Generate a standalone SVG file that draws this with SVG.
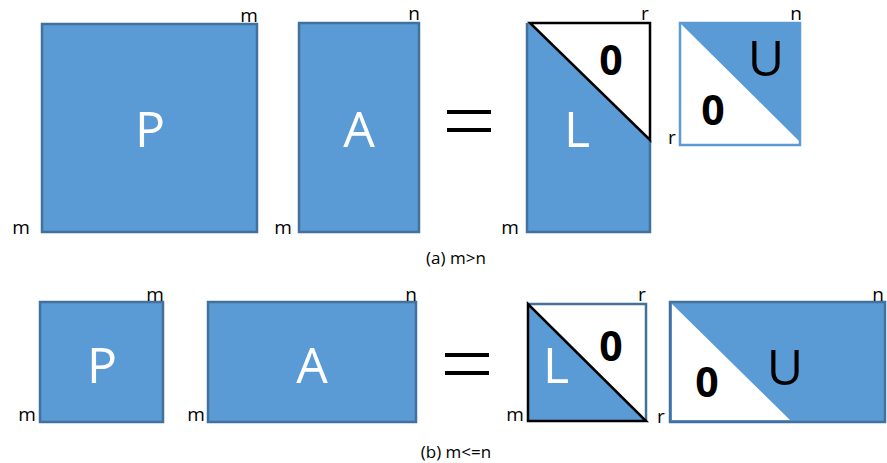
<svg xmlns="http://www.w3.org/2000/svg" width="887" height="463" viewBox="0 0 887 463">
<style>
.box{fill:#5B9BD5;stroke:#41719C;stroke-width:2.5}
.wt{fill:#fff;stroke:none}
.bl{fill:#5B9BD5;stroke:none}
.blk{fill:none;stroke:#000;stroke-width:2.5;stroke-linejoin:miter}
.bd{fill:none;stroke:#41719C;stroke-width:2.5}
.big{font-family:"Open Sans","Liberation Sans",sans-serif;font-size:50px;fill:#fff;text-anchor:middle}
.bigk{font-family:"Open Sans","Liberation Sans",sans-serif;font-size:50px;fill:#000;text-anchor:middle}
.zero{font-family:"Open Sans","Liberation Sans",sans-serif;font-size:41px;font-weight:bold;fill:#000;text-anchor:middle}
.dim{font-family:"Open Sans","Liberation Sans",sans-serif;font-size:19px;fill:#000;text-anchor:middle}
.cap{font-family:"Open Sans","Liberation Sans",sans-serif;font-size:17px;fill:#000;text-anchor:middle}
.eq{stroke:#000;stroke-width:4}
</style>
<g id="top-P"><rect class="box" x="42" y="24" width="215" height="208"/><text class="big" x="150" y="147">P</text><text class="dim" x="249" y="22">m</text><text class="dim" x="21" y="234">m</text></g>
<g id="top-A"><rect class="box" x="299" y="23" width="120" height="209"/><text class="big" x="359" y="147">A</text><text class="dim" x="414" y="20">n</text><text class="dim" x="283" y="234">m</text></g>
<g id="top-eq"><line class="eq" x1="447" y1="112" x2="491" y2="112"/><line class="eq" x1="447" y1="130" x2="491" y2="130"/></g>
<g id="top-L"><rect class="bl" x="527" y="23" width="123" height="209"/><polygon class="wt" points="530,23 650,23 650,140"/><path class="bd" d="M650,140 L650,232 L527,232 L527,23"/><path class="blk" d="M530,23 L650,23 L650,140 Z"/><text class="zero" x="611" y="75">0</text><text class="big" x="577" y="147">L</text><text class="dim" x="645" y="20">r</text><text class="dim" x="510" y="234">m</text></g>
<g id="top-U"><rect class="wt" x="680" y="23" width="120" height="122"/><polygon class="bl" points="680,23 800,23 800,142"/><rect x="680" y="23" width="120" height="122" fill="none" stroke="#5B9BD5" stroke-width="2.5"/><text class="bigk" x="766" y="76">U</text><text class="zero" x="713" y="125">0</text><text class="dim" x="796" y="20">n</text><text class="dim" x="672" y="144">r</text></g>
<text class="cap" x="456" y="264">(a) m&gt;n</text>
<g id="bot-P"><rect class="box" x="40" y="302" width="123" height="120"/><text class="big" x="102" y="383">P</text><text class="dim" x="155" y="301">m</text><text class="dim" x="27" y="421">m</text></g>
<g id="bot-A"><rect class="box" x="208" y="302" width="208" height="120"/><text class="big" x="312" y="383">A</text><text class="dim" x="411" y="301">n</text><text class="dim" x="196" y="421">m</text></g>
<g id="bot-eq"><line class="eq" x1="445" y1="355" x2="489" y2="355"/><line class="eq" x1="445" y1="373" x2="489" y2="373"/></g>
<g id="bot-L"><rect class="wt" x="528" y="304" width="118" height="117"/><polygon class="bl" points="528,304 528,421 646,421"/><path class="bd" d="M528,304 L646,304 L646,421"/><path class="blk" d="M528,304 L528,421 L646,421 Z"/><text class="zero" x="611" y="361">0</text><text class="big" x="556" y="383">L</text><text class="dim" x="642" y="301">r</text><text class="dim" x="515" y="421">m</text></g>
<g id="bot-U"><rect class="bl" x="670" y="302" width="215" height="120"/><polygon class="wt" points="672,304 672,420 790,420"/><rect x="670" y="302" width="215" height="120" fill="none" stroke="#41719C" stroke-width="2.5"/><text class="bigk" x="785" y="385">U</text><text class="zero" x="707" y="397">0</text><text class="dim" x="878" y="301">n</text><text class="dim" x="661" y="423">r</text></g>
<text class="cap" x="456" y="458">(b) m&lt;=n</text>
</svg>
